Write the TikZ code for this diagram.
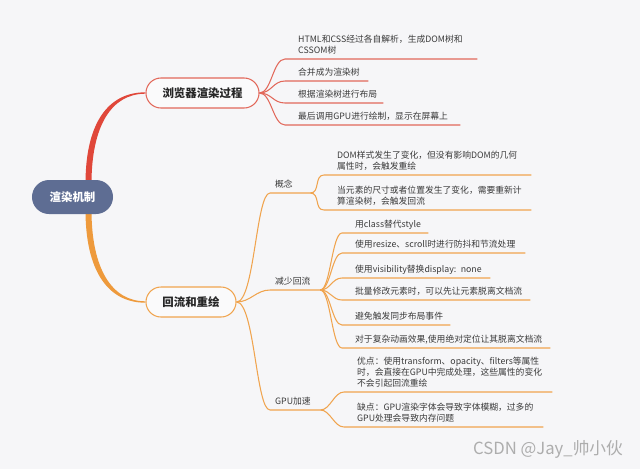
\documentclass[tikz,border=0pt]{standalone}
\usepackage{fontspec}
\setmainfont{Noto Sans CJK SC}
\usepackage{tikz}
\usepackage{xcolor}
\usetikzlibrary{calc}
\definecolor{bgpaper}{HTML}{F6F6F8}
\definecolor{pillfill}{HTML}{FAFAFB}
\definecolor{rootblue}{HTML}{5E6D93}
\definecolor{trunkred}{HTML}{E0473A}
\definecolor{trunkorange}{HTML}{EE9A3C}
\definecolor{linered}{HTML}{E2685A}
\definecolor{lineorange}{HTML}{F0A44E}
\definecolor{ink}{HTML}{262626}
\definecolor{leafink}{HTML}{3A3A3A}
\definecolor{wmgray}{HTML}{ADADAD}
\pgfdeclarelayer{background}
\pgfsetlayers{background,main}
\tikzset{
  rootnode/.style={fill=rootblue,text=white,rounded corners=0.68cm,
                   minimum width=3.24cm,minimum height=1.36cm,
                   font=\fontsize{13}{15}\selectfont\bfseries},
  topic/.style={fill=pillfill,line width=1.2pt,rounded corners=0.6cm,
                minimum height=1.2cm,text=ink,
                font=\fontsize{13}{15}\selectfont\bfseries},
  leaf/.style={anchor=south west,align=left,inner xsep=0.2cm,inner ysep=2.6pt,
               execute at end node=\strut,text=leafink,
               font=\fontsize{10}{12.5}\selectfont},
  redline/.style={draw=linered,line width=1.2pt},
  orgline/.style={draw=lineorange,line width=1.2pt}
}

\begin{document}
\begin{tikzpicture}[x=0.04cm,y=-0.04cm]
    \path[use as bounding box] (0,0) rectangle (640,469);
    \begin{pgfonlayer}{background}
      \fill[bgpaper] (0,0) rectangle (640,469);
    \end{pgfonlayer}

    \node[rootnode] (root) at (72.5,197) {渲染机制};
    \node[topic,draw=linered,minimum width=4.52cm] (render) at (202.5,93)
      {浏览器渲染过程};
    \node[topic,draw=lineorange,minimum width=3.6cm] (flow) at (191,302)
      {回流和重绘};

    % thick trunks out of the root
    \begin{pgfonlayer}{background}
      \fill[trunkred] ($(root.north)+(13,4)$) .. controls +(0,-60) and +(-38,0)
        .. ($(render.west)+(0,-0.7)$) -- ($(render.west)+(0,0.7)$)
        .. controls +(-34,0) and +(0,-58) .. ($(root.north)+(19,4)$) -- cycle;
      \fill[trunkorange] ($(root.south)+(13,-4)$) .. controls +(0,60) and +(-38,0)
        .. ($(flow.west)+(0,0.7)$) -- ($(flow.west)+(0,-0.7)$)
        .. controls +(-34,0) and +(0,58) .. ($(root.south)+(19,-4)$) -- cycle;
    \end{pgfonlayer}

    % browser rendering steps
    \node[leaf,text width=6.96cm] (r1) at (293,59)
      {HTML和CSS经过各自解析，生成DOM树和\\CSSOM树};
    \node[leaf,text width=2.6cm] (r2) at (293,81) {合并成为渲染树};
    \node[leaf,text width=3.2cm] (r3) at (293,103) {根据渲染树进行布局};
    \node[leaf,text width=6.28cm] (r4) at (293,125)
      {最后调用GPU进行绘制，显示在屏幕上};
    \draw[redline] (render.east) .. controls +(12,0) and +(-12,0)
      .. ($(r1.south west)+(-8,0)$) -- (r1.south east);
    \draw[redline] (render.east) .. controls +(12,0) and +(-12,0)
      .. ($(r2.south west)+(-8,0)$) -- (r2.south east);
    \draw[redline] (render.east) .. controls +(12,0) and +(-12,0)
      .. ($(r3.south west)+(-8,0)$) -- (r3.south east);
    \draw[redline] (render.east) .. controls +(12,0) and +(-12,0)
      .. ($(r4.south west)+(-8,0)$) -- (r4.south east);

    % reflow and repaint
    \node[leaf,text width=1.2cm] (idea) at (270,193) {概念};
    \node[leaf,text width=1.6cm] (less) at (270,290) {减少回流};
    \node[leaf,text width=1.6cm] (gpu) at (270,410) {GPU加速};
    \draw[orgline] (flow.east) .. controls +(18,0) and +(-14,0)
      .. (idea.south west) -- (idea.south east);
    \draw[orgline] (flow.east) .. controls +(14,0) and +(-14,0)
      .. (less.south west) -- (less.south east);
    \draw[orgline] (flow.east) .. controls +(18,0) and +(-14,0)
      .. (gpu.south west) -- (gpu.south east);

    \node[leaf,text width=7.56cm] (c1) at (332,175)
      {DOM样式发生了变化，但没有影响DOM的几何\\属性时，会触发重绘};
    \node[leaf,text width=7.56cm] (c2) at (332,210)
      {当元素的尺寸或者位置发生了变化，需要重新计\\算渲染树，会触发回流};
    \draw[orgline] (idea.south east) .. controls +(10,0) and +(-10,0)
      .. ($(c1.south west)+(-8,0)$) -- (c1.south east);
    \draw[orgline] (idea.south east) .. controls +(10,0) and +(-10,0)
      .. ($(c2.south west)+(-8,0)$) -- (c2.south east);

    \node[leaf,text width=2.72cm] (d1) at (350,233) {用class替代style};
    \node[leaf,text width=6.6cm] (d2) at (350,253)
      {使用resize、scroll时进行防抖和节流处理};
    \node[leaf,text width=5.2cm] (d3) at (350,278)
      {使用visibility替换display: none};
    \node[leaf,text width=6.8cm] (d4) at (350,300)
      {批量修改元素时，可以先让元素脱离文档流};
    \node[leaf,text width=3.6cm] (d5) at (350,325) {避免触发同步布局事件};
    \node[leaf,text width=7.6cm] (d6) at (350,348)
      {对于复杂动画效果,使用绝对定位让其脱离文档流};
    \draw[orgline] (less.south east) .. controls +(10,0) and +(-10,0)
      .. ($(d1.south west)+(-8,0)$) -- (d1.south east);
    \draw[orgline] (less.south east) .. controls +(10,0) and +(-10,0)
      .. ($(d2.south west)+(-8,0)$) -- (d2.south east);
    \draw[orgline] (less.south east) .. controls +(10,0) and +(-10,0)
      .. ($(d3.south west)+(-8,0)$) -- (d3.south east);
    \draw[orgline] (less.south east) .. controls +(10,0) and +(-10,0)
      .. ($(d4.south west)+(-8,0)$) -- (d4.south east);
    \draw[orgline] (less.south east) .. controls +(10,0) and +(-10,0)
      .. ($(d5.south west)+(-8,0)$) -- (d5.south east);
    \draw[orgline] (less.south east) .. controls +(10,0) and +(-10,0)
      .. ($(d6.south west)+(-8,0)$) -- (d6.south east);

    \node[leaf,text width=7.6cm] (g1) at (352,392)
      {优点：使用transform、opacity、filters等属性\\时，会直接在GPU中完成处理，这些属性的变化\\不会引起回流重绘};
    \node[leaf,text width=7.24cm] (g2) at (352,427)
      {缺点：GPU渲染字体会导致字体模糊，过多的\\GPU处理会导致内存问题};
    \draw[orgline] (gpu.south east) .. controls +(10,0) and +(-10,0)
      .. ($(g1.south west)+(-8,0)$) -- (g1.south east);
    \draw[orgline] (gpu.south east) .. controls +(10,0) and +(-10,0)
      .. ($(g2.south west)+(-8,0)$) -- (g2.south east);

    \node[text=wmgray,font=\fontsize{19}{22}\selectfont] (mark) at (548,449)
      {CSDN @Jay\_帅小伙};
\end{tikzpicture}
\end{document}
